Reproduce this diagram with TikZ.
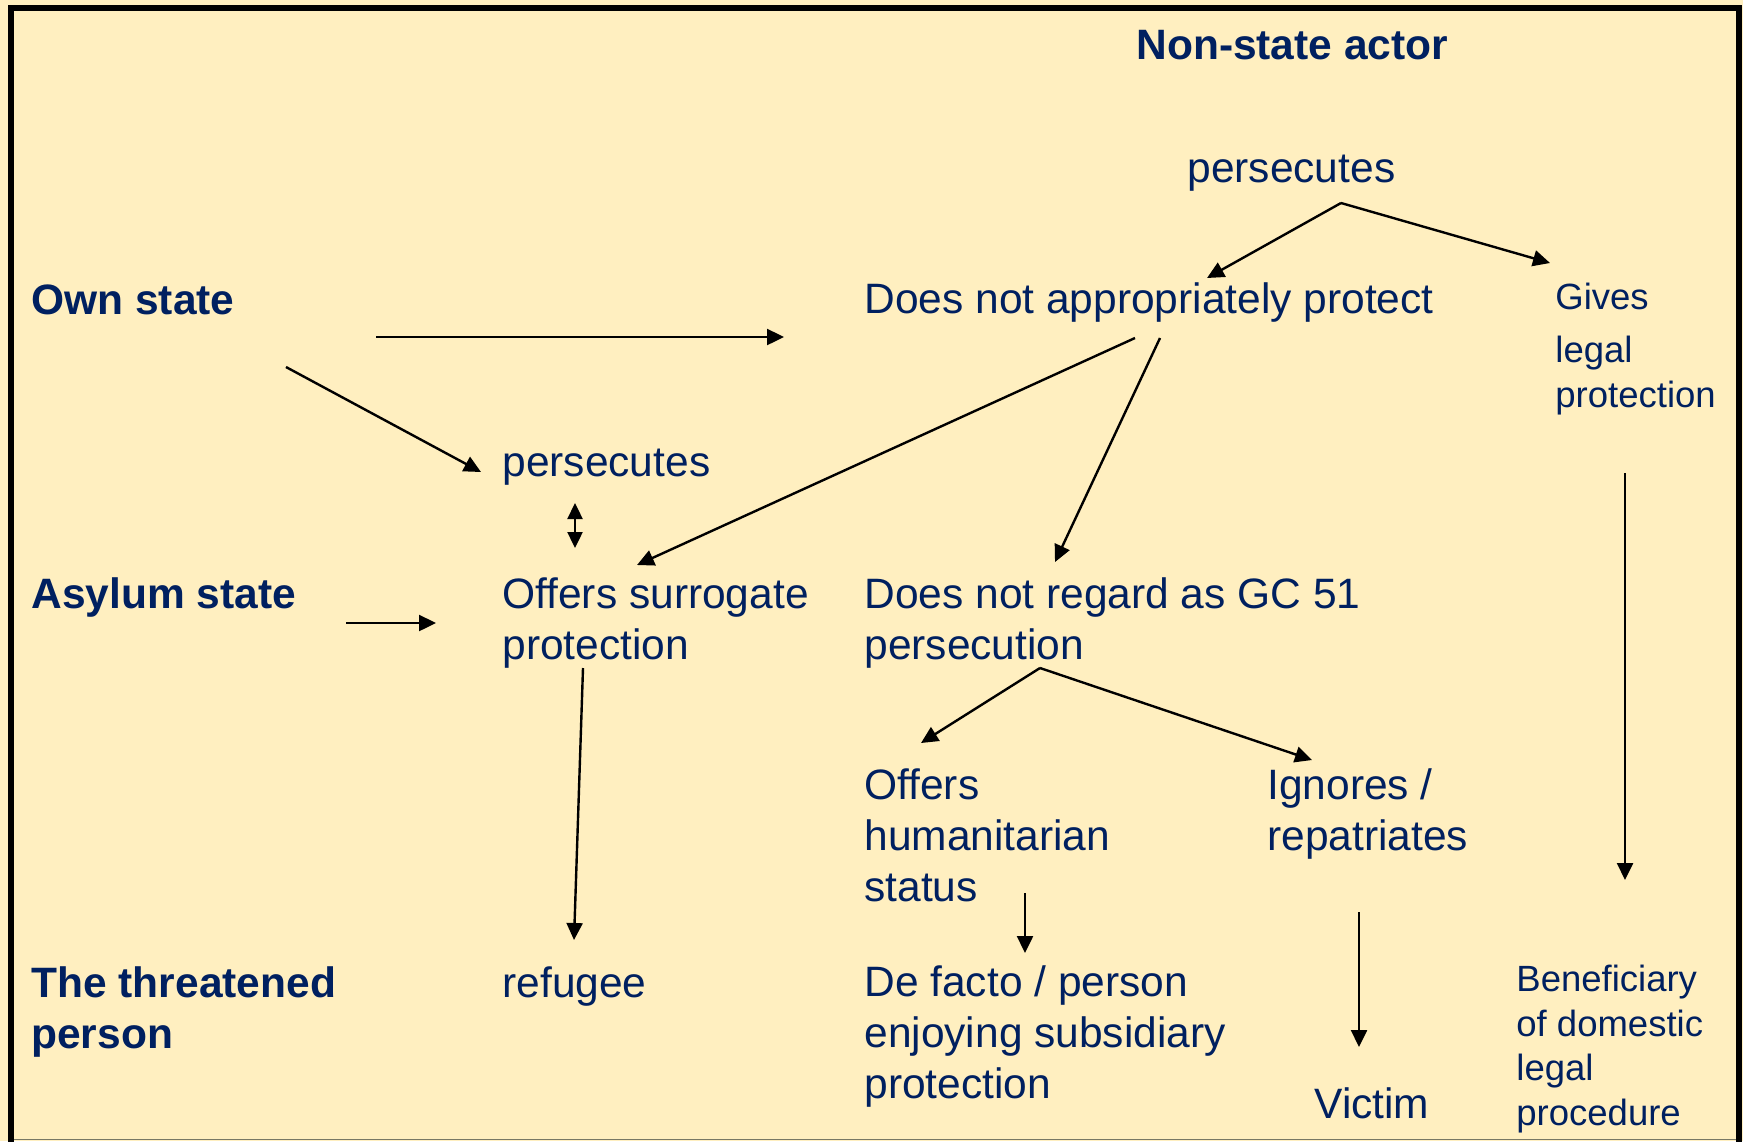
\documentclass[tikz,border=0pt]{standalone}
\usepackage{fontspec}
\setmainfont{Liberation Sans}
\usetikzlibrary{arrows.meta}
\definecolor{bg}{RGB}{255,239,192}
\definecolor{navy}{RGB}{0,32,96}
\definecolor{rulegray}{RGB}{120,120,100}
\begin{document}
\begin{tikzpicture}[x=0.5pt,y=-0.5pt,
  lbl/.style={inner sep=0pt,anchor=base west,text=navy,align=left,font=\fontsize{21.25pt}{25.5pt}\selectfont},
  head/.style={lbl,font=\fontsize{21.25pt}{25.5pt}\selectfont\bfseries},
  small/.style={lbl,font=\fontsize{18.25pt}{22.25pt}\selectfont},
  arr/.style={-{Triangle[length=8.5pt,width=8pt]},line width=1.2pt,black},
  darr/.style={{Triangle[length=8pt,width=7.5pt]}-{Triangle[length=8pt,width=7.5pt]},line width=1.2pt,black}]
\useasboundingbox (0,0) rectangle (1743,1141);
\fill[bg] (0,0) rectangle (1743,1141);
\draw[line width=3pt] (11,1160) -- (11,8) -- (1739,8) -- (1739,1160);
\draw[rulegray,line width=0.8pt] (14,1139.5) -- (1736,1139.5);

% labels (multi-line nodes are anchored at the baseline of their last line)
\node[head] (nsa) at (1136,59) {Non-state actor};
\node[lbl] (ptop) at (1187,182) {persecutes};
\node[head] (own) at (31,314) {Own state};
\node[lbl] (dnp) at (864,313) {Does not appropriately protect};
\node[small] (gives) at (1555,407) {Gives\\[4.5pt]legal\\protection};
\node[lbl] (pmid) at (502,476) {persecutes};
\node[head] (asy) at (31,608) {Asylum state};
\node[lbl] (osp) at (502,659) {Offers surrogate\\protection};
\node[lbl] (dnr) at (864,659) {Does not regard as GC 51\\persecution};
\node[lbl] (ohs) at (864,901) {Offers\\humanitarian\\status};
\node[lbl] (ign) at (1267,850) {Ignores /\\repatriates};
\node[head] (thr) at (31,1048) {The threatened\\person};
\node[lbl] (ref) at (502,997) {refugee};
\node[lbl] (dfp) at (864,1098) {De facto / person\\enjoying subsidiary\\protection};
\node[lbl] (vic) at (1314,1118) {Victim};
\node[small] (ben) at (1516,1125) {Beneficiary\\of domestic\\legal\\procedure};

% connector end points
\coordinate (ptopS) at (1341,203);
\coordinate (dnpN) at (1207,278);
\coordinate (givesN) at (1550,263);
\coordinate (ownE) at (376,337);
\coordinate (dnpW) at (784,337);
\coordinate (ownSE) at (286,367);
\coordinate (pmidW) at (481,472);
\coordinate (dnpS1) at (1135,338);
\coordinate (ospN) at (637,565);
\coordinate (dnpS2) at (1160,338);
\coordinate (dnrN) at (1055,562);
\coordinate (pmidS) at (575,503);
\coordinate (ospN2) at (575,548);
\coordinate (asyE) at (346,623);
\coordinate (ospW) at (436,623);
\coordinate (ospS) at (583,668);
\coordinate (refN) at (574,940);
\coordinate (dnrS) at (1040,668);
\coordinate (ohsN) at (921,743);
\coordinate (ignN) at (1312,760);
\coordinate (ohsS) at (1025,893);
\coordinate (dfpN) at (1025,953);
\coordinate (ignS) at (1359,912);
\coordinate (vicN) at (1359,1047);
\coordinate (givesS) at (1625,473);
\coordinate (benN) at (1625,880);

% connectors
\draw[arr] (ptopS) -- (dnpN);
\draw[arr] (ptopS) -- (givesN);
\draw[arr] (ownE) -- (dnpW);
\draw[arr] (ownSE) -- (pmidW);
\draw[arr] (dnpS1) -- (ospN);
\draw[arr] (dnpS2) -- (dnrN);
\draw[darr] (pmidS) -- (ospN2);
\draw[arr] (asyE) -- (ospW);
\draw[arr] (ospS) -- (refN);
\draw[arr] (dnrS) -- (ohsN);
\draw[arr] (dnrS) -- (ignN);
\draw[arr] (ohsS) -- (dfpN);
\draw[arr] (ignS) -- (vicN);
\draw[arr] (givesS) -- (benN);
\end{tikzpicture}
\end{document}
